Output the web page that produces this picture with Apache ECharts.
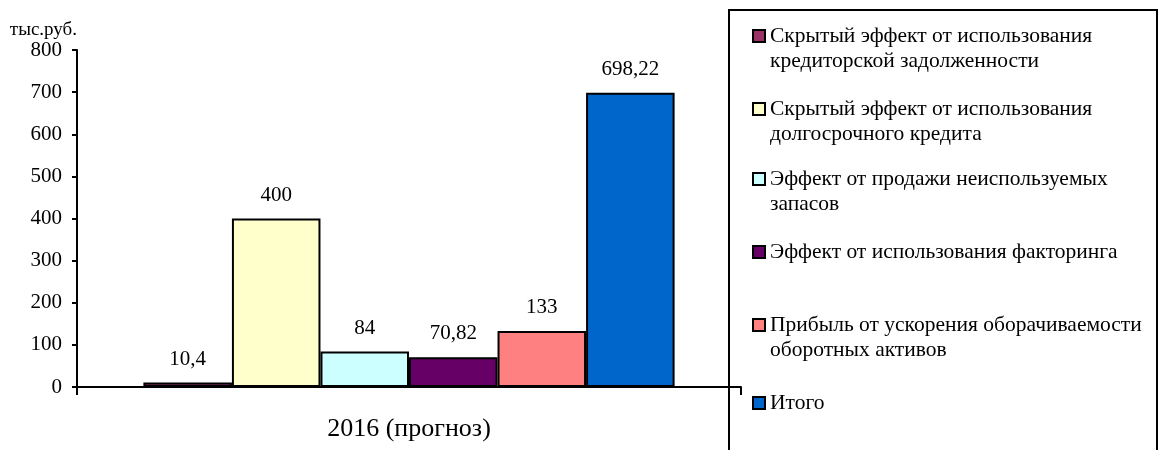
<!DOCTYPE html>
<html>
<head>
<meta charset="utf-8">
<script src="https://cdn.jsdelivr.net/npm/echarts@6/dist/echarts.min.js"></script>
<style>
  html, body { margin: 0; padding: 0; background: #fff; }
  #chart { width: 1160px; height: 450px; }
</style>
</head>
<body>
<div id="chart"></div>
<script>
// Categories and values
const categories = ['2016 (прогноз)'];
const seriesNames = [
  'Скрытый эффект от использования\nкредиторской задолженности',
  'Скрытый эффект от использования\nдолгосрочного кредита',
  'Эффект от продажи неиспользуемых\nзапасов',
  'Эффект от использования факторинга',
  'Прибыль от ускорения оборачиваемости\nоборотных активов',
  'Итого'
];
const seriesValues = [10.4, 400, 84, 70.82, 133, 698.22];
const seriesColors = ['#993366', '#FFFFCC', '#CCFFFF', '#660066', '#FF8080', '#0066CC'];
const yTicks = [0, 100, 200, 300, 400, 500, 600, 700, 800];

const FONT = '"Liberation Serif", "Times New Roman", serif';

// Square marker sitting on the first text line of a two-line legend entry
const twoLineIcon = 'path://M0,0H12V12H0Z M12,37';
const legendTops = [23.5, 96.5, 166.5, 239.5, 312.5, 390.5];

const legends = seriesNames.map((name, i) => {
  const twoLines = name.indexOf('\n') >= 0;
  return {
    data: [name],
    left: 752,
    top: legendTops[i],
    padding: 0,
    orient: 'vertical',
    selectedMode: false,
    icon: twoLines ? twoLineIcon : 'rect',
    itemWidth: 12,
    itemHeight: twoLines ? 37 : 12,
    textStyle: { fontFamily: FONT, fontSize: 21.5, color: '#000', lineHeight: 25 }
  };
});

const series = seriesNames.map((name, i) => ({
  name: name,
  type: 'bar',
  data: [seriesValues[i]],
  barGap: '0%',
  barCategoryGap: '20%',
  itemStyle: { color: seriesColors[i], borderColor: '#000', borderWidth: 2 },
  label: {
    show: true,
    position: 'top',
    distance: 13,
    fontFamily: FONT,
    fontSize: 21,
    color: '#000',
    formatter: p => String(p.value).replace('.', ',')
  },
  emphasis: { disabled: true }
}));

const chart = echarts.init(document.getElementById('chart'));
chart.setOption({
  animation: false,
  backgroundColor: '#fff',
  grid: { left: 77, right: 419, top: 50, bottom: 63, containLabel: false },
  legend: legends,
  xAxis: {
    type: 'category',
    data: categories,
    boundaryGap: true,
    axisLine: { lineStyle: { color: '#000', width: 2 } },
    axisTick: { show: true, length: 8, alignWithLabel: false, lineStyle: { color: '#000', width: 2 } },
    axisLabel: { fontFamily: FONT, fontSize: 26, color: '#000', margin: 29 },
    splitLine: { show: false }
  },
  yAxis: {
    type: 'value',
    min: yTicks[0],
    max: yTicks[yTicks.length - 1],
    interval: 100,
    name: 'тыс.руб.',
    nameLocation: 'end',
    nameGap: 20,
    nameTextStyle: { fontFamily: FONT, fontSize: 19, color: '#000', align: 'right', verticalAlign: 'middle', padding: [0, 0, 0, 0] },
    axisLine: { show: true, lineStyle: { color: '#000', width: 2 } },
    axisTick: { show: true, length: 5, lineStyle: { color: '#000', width: 2 } },
    axisLabel: { fontFamily: FONT, fontSize: 21, color: '#000', margin: 15 },
    splitLine: { show: false }
  },
  graphic: [{
    type: 'rect',
    shape: { x: 729, y: 10, width: 428, height: 460 },
    style: { fill: 'none', stroke: '#000', lineWidth: 2 },
    silent: true,
    z: -1
  }],
  series: series
});
</script>
</body>
</html>
